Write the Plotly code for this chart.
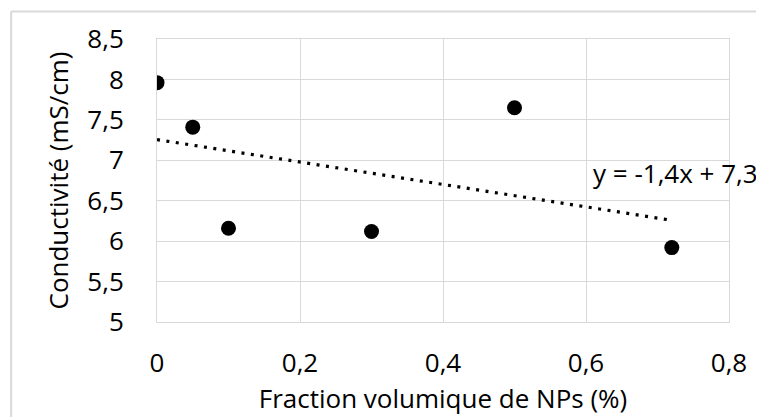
import numpy as np
import plotly.graph_objects as go

# fraction volumique de NPs (%) vs conductivité (mS/cm)
fraction = [0, 0.05, 0.1, 0.3, 0.5, 0.72]
conductivite = [7.96, 7.41, 6.16, 6.12, 7.65, 5.92]

x_ticks = [0, 0.2, 0.4, 0.6, 0.8]
x_labels = ["0", "0,2", "0,4", "0,6", "0,8"]
y_ticks = [5, 5.5, 6, 6.5, 7, 7.5, 8, 8.5]
y_labels = ["5", "5,5", "6", "6,5", "7", "7,5", "8", "8,5"]

# linear trendline (least squares), like Excel
slope, intercept = np.polyfit(fraction, conductivite, 1)
x_fit = np.array([min(fraction), max(fraction)])
y_fit = slope * x_fit + intercept
eq_text = "y = {:.1f}x + {:.1f}".format(slope, intercept).replace(".", ",")

font = "'Open Sans', sans-serif"
fs = 26

fig = go.Figure()
fig.add_trace(go.Scatter(
    x=x_fit, y=y_fit, mode="lines",
    line=dict(color="black", width=3.2, dash="3px,6.5px"),
    showlegend=False, hoverinfo="skip"))
fig.add_trace(go.Scatter(
    x=fraction, y=conductivite, mode="markers",
    marker=dict(color="black", size=15),
    showlegend=False))

fig.add_annotation(
    x=1.055, y=0.526, xref="paper", yref="paper", text=eq_text, showarrow=False,
    xanchor="right", yanchor="middle",
    font=dict(family=font, size=fs, color="black"))

# light outer chart border (top and left visible)
fig.add_shape(type="line", xref="paper", yref="paper",
              x0=-0.255, x1=1.3, y0=1.097, y1=1.097,
              line=dict(color="#d9d9d9", width=2))
fig.add_shape(type="line", xref="paper", yref="paper",
              x0=-0.255, x1=-0.255, y0=1.097, y1=-0.6,
              line=dict(color="#d9d9d9", width=2))

fig.update_layout(
    width=764, height=417,
    margin=dict(l=149, r=43, t=25, b=103),
    plot_bgcolor="white", paper_bgcolor="white",
    font=dict(family=font, size=fs, color="black"),
    xaxis=dict(
        range=[0, 0.8], tickvals=x_ticks, ticktext=x_labels,
        showgrid=True, gridcolor="#d9d9d9", gridwidth=1,
        zeroline=False, showline=True, linecolor="#d9d9d9", mirror=True,
        ticks="", ticklabelstandoff=18,
        title=dict(text="Fraction volumique de NPs (%)", standoff=0,
                   font=dict(size=fs))),
    yaxis=dict(
        range=[5, 8.5], tickvals=y_ticks, ticktext=y_labels,
        showgrid=True, gridcolor="#d9d9d9", gridwidth=1,
        zeroline=False, showline=True, linecolor="#d9d9d9", mirror=True,
        ticks="", ticklabelstandoff=27,
        title=dict(text="Conductivité (mS/cm)", standoff=11,
                   font=dict(size=fs))),
)

fig.write_html("out.html")
